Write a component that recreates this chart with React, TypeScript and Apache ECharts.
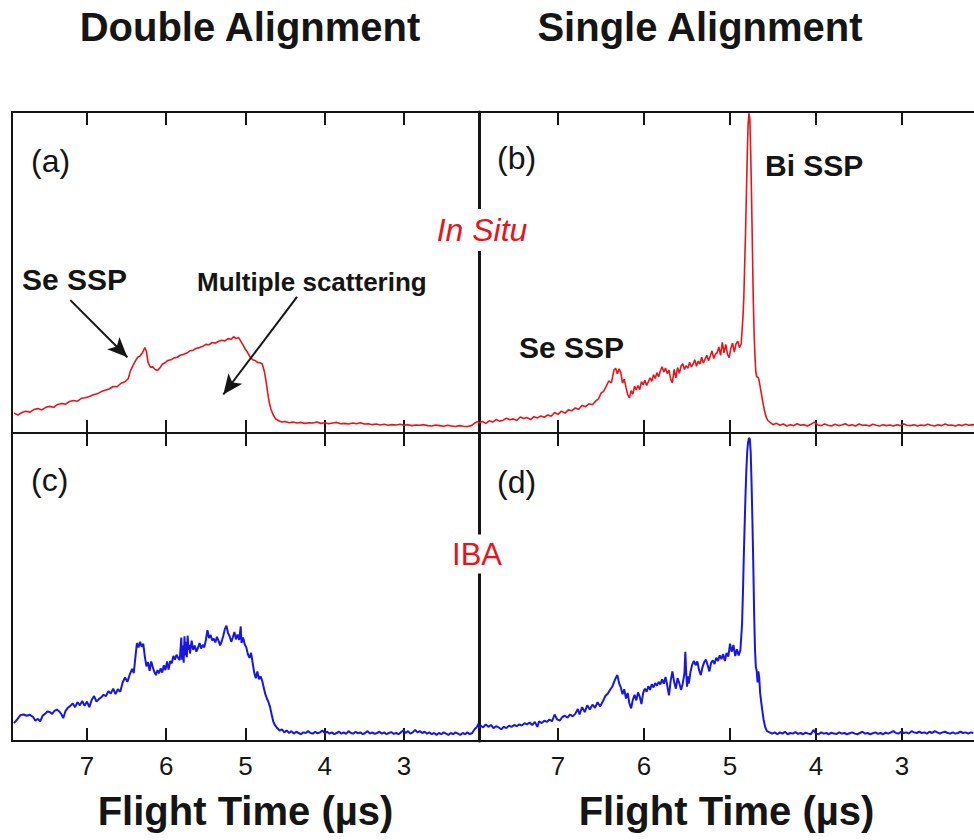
import React, { useEffect, useRef } from "react";
import * as echarts from "echarts";

// Flight time (µs) vs. counts (normalised, 100 = panel height)
const panelA_InSituDouble: [number, number][] = [
  [7.92, 6.2], [7.87, 5.6], [7.82, 6.4], [7.77, 6.8], [7.72, 6.5], [7.67, 7.3], [7.62, 7.6], [7.57, 7.2],
  [7.52, 8.0], [7.47, 8.3], [7.42, 8.0], [7.37, 8.9], [7.32, 9.2], [7.27, 9.0], [7.22, 9.8], [7.17, 10.1],
  [7.12, 9.9], [7.07, 10.8], [7.02, 11.0], [6.97, 11.4], [6.92, 11.9], [6.87, 12.2], [6.82, 12.9], [6.77, 13.3],
  [6.72, 13.7], [6.67, 14.5], [6.62, 14.4], [6.57, 15.5], [6.52, 16.0], [6.48, 16.9], [6.45, 19.5], [6.42, 21.0],
  [6.39, 22.4], [6.36, 23.6], [6.33, 24.0], [6.30, 25.0], [6.27, 26.6], [6.25, 25.4], [6.23, 22.0], [6.20, 20.5],
  [6.17, 20.6], [6.14, 19.8], [6.11, 19.5], [6.08, 20.3], [6.05, 21.4], [6.02, 21.8], [5.98, 22.6], [5.94, 22.8],
  [5.90, 23.4], [5.86, 23.6], [5.82, 24.3], [5.78, 24.5], [5.74, 24.9], [5.70, 25.6], [5.66, 25.8], [5.62, 26.4],
  [5.58, 26.6], [5.54, 27.0], [5.50, 27.6], [5.46, 27.5], [5.42, 28.2], [5.38, 28.0], [5.34, 28.6], [5.30, 28.9],
  [5.26, 28.7], [5.22, 29.4], [5.18, 29.2], [5.15, 30.0], [5.12, 29.4], [5.09, 29.8], [5.06, 28.6], [5.03, 27.4],
  [5.00, 26.0], [4.97, 24.9], [4.94, 23.6], [4.91, 22.8], [4.88, 22.6], [4.85, 22.0], [4.82, 21.9], [4.79, 21.6],
  [4.76, 19.0], [4.74, 16.0], [4.72, 12.5], [4.70, 9.5], [4.68, 7.5], [4.65, 5.6], [4.62, 4.4], [4.58, 3.8],
  [4.54, 3.4], [4.50, 3.6], [4.45, 3.2], [4.40, 3.4], [4.35, 3.1], [4.30, 3.3], [4.25, 3.0], [4.20, 3.2],
  [4.15, 3.1], [4.10, 3.4], [4.05, 3.0], [4.00, 3.2], [3.95, 2.9], [3.90, 3.1], [3.85, 3.3], [3.80, 2.9],
  [3.75, 3.0], [3.70, 2.8], [3.65, 3.1], [3.60, 2.9], [3.55, 3.2], [3.50, 2.8], [3.45, 2.9], [3.40, 2.6],
  [3.35, 2.8], [3.30, 2.5], [3.25, 2.7], [3.20, 2.4], [3.15, 2.6], [3.10, 2.5], [3.05, 2.7], [3.00, 2.4],
  [2.95, 2.6], [2.90, 2.3], [2.85, 2.5], [2.80, 2.4], [2.75, 2.6], [2.70, 2.3], [2.65, 2.2], [2.60, 2.5],
  [2.55, 2.3], [2.50, 2.1], [2.45, 2.4], [2.40, 2.2], [2.35, 2.0], [2.30, 2.3], [2.25, 2.1], [2.20, 2.0],
  [2.15, 2.3], [2.10, 3.2], [2.07, 3.6],
];

const panelB_InSituSingle: [number, number][] = [
  [7.93, 3.1], [7.88, 3.6], [7.84, 3.0], [7.80, 3.8], [7.76, 3.4], [7.72, 4.2], [7.68, 3.7], [7.64, 4.0],
  [7.60, 4.6], [7.56, 4.1], [7.52, 4.4], [7.48, 3.9], [7.44, 5.0], [7.40, 4.5], [7.36, 4.8], [7.32, 4.2],
  [7.28, 5.1], [7.24, 4.7], [7.20, 5.3], [7.16, 4.9], [7.12, 5.6], [7.08, 5.2], [7.04, 6.4], [7.00, 5.8],
  [6.96, 6.8], [6.92, 6.2], [6.88, 7.2], [6.84, 6.9], [6.80, 7.8], [6.76, 7.4], [6.72, 8.6], [6.68, 8.2],
  [6.64, 9.1], [6.60, 8.8], [6.56, 10.0], [6.53, 10.6], [6.50, 12.4], [6.47, 13.0], [6.44, 14.5], [6.41, 16.2],
  [6.38, 15.6], [6.35, 19.6], [6.33, 20.2], [6.31, 18.4], [6.29, 20.0], [6.27, 18.8], [6.25, 15.5], [6.23, 16.8],
  [6.21, 14.2], [6.19, 12.0], [6.17, 10.9], [6.15, 13.2], [6.13, 12.1], [6.11, 14.6], [6.09, 13.4], [6.07, 14.8],
  [6.05, 13.5], [6.03, 16.0], [6.01, 15.0], [5.99, 16.4], [5.97, 14.8], [5.95, 15.9], [5.93, 17.2], [5.91, 16.1],
  [5.89, 18.2], [5.87, 17.0], [5.85, 18.8], [5.83, 17.5], [5.81, 19.4], [5.79, 20.6], [5.77, 19.0], [5.75, 20.2],
  [5.73, 18.5], [5.71, 19.6], [5.69, 16.8], [5.67, 15.6], [5.65, 19.8], [5.63, 17.2], [5.61, 20.4], [5.59, 18.6],
  [5.57, 20.8], [5.55, 21.6], [5.53, 19.8], [5.51, 21.0], [5.49, 20.2], [5.47, 22.0], [5.45, 20.6], [5.43, 21.4],
  [5.41, 22.8], [5.39, 20.8], [5.37, 22.4], [5.35, 21.5], [5.33, 23.6], [5.31, 21.8], [5.29, 23.0], [5.27, 24.2],
  [5.25, 22.5], [5.23, 24.0], [5.21, 25.6], [5.19, 23.2], [5.17, 24.6], [5.15, 25.0], [5.13, 26.8], [5.11, 24.2],
  [5.09, 28.2], [5.07, 25.0], [5.05, 27.6], [5.03, 24.6], [5.01, 23.5], [4.99, 26.4], [4.97, 28.0], [4.95, 25.2],
  [4.93, 27.8], [4.91, 28.6], [4.89, 26.6], [4.87, 27.8], [4.85, 36.0], [4.84, 42.0], [4.83, 52.0], [4.82, 62.0],
  [4.81, 74.0], [4.80, 86.0], [4.79, 96.0], [4.78, 99.6], [4.77, 98.0], [4.76, 88.0], [4.75, 74.0], [4.74, 58.0],
  [4.73, 42.0], [4.72, 31.0], [4.71, 24.0], [4.70, 19.0], [4.69, 17.6], [4.67, 17.2], [4.66, 16.0], [4.64, 13.0],
  [4.62, 9.8], [4.60, 7.0], [4.58, 5.0], [4.56, 3.9], [4.53, 3.2], [4.50, 2.6], [4.46, 3.0], [4.42, 2.4],
  [4.38, 2.8], [4.34, 2.2], [4.30, 2.6], [4.26, 2.3], [4.22, 2.9], [4.18, 2.4], [4.14, 2.6], [4.10, 2.2],
  [4.06, 2.7], [4.02, 3.4], [3.98, 2.5], [3.94, 2.3], [3.90, 2.8], [3.86, 2.4], [3.82, 2.2], [3.78, 2.7],
  [3.74, 2.3], [3.70, 2.5], [3.66, 2.9], [3.62, 2.3], [3.58, 2.6], [3.54, 2.2], [3.50, 2.8], [3.46, 2.4],
  [3.42, 2.5], [3.38, 2.2], [3.34, 2.7], [3.30, 2.4], [3.26, 2.2], [3.22, 2.6], [3.18, 2.3], [3.14, 2.5],
  [3.10, 2.2], [3.06, 2.6], [3.02, 2.3], [2.98, 2.8], [2.94, 2.4], [2.90, 2.3], [2.86, 2.6], [2.82, 2.2],
  [2.78, 2.5], [2.74, 2.3], [2.70, 2.7], [2.66, 2.4], [2.62, 2.2], [2.58, 2.6], [2.54, 2.3], [2.50, 2.8],
  [2.46, 2.4], [2.42, 2.5], [2.38, 2.2], [2.34, 2.6], [2.30, 2.3], [2.26, 2.7], [2.22, 2.4], [2.18, 2.6],
  [2.16, 2.5],
];

const panelC_IBADouble: [number, number][] = [
  [7.92, 5.8], [7.88, 7.0], [7.84, 8.4], [7.80, 8.6], [7.76, 8.2], [7.72, 8.5], [7.68, 7.8], [7.65, 6.6],
  [7.62, 7.2], [7.59, 6.4], [7.56, 8.2], [7.53, 8.8], [7.50, 9.6], [7.47, 9.4], [7.44, 8.8], [7.41, 9.8],
  [7.38, 10.2], [7.35, 9.6], [7.32, 8.6], [7.30, 7.4], [7.27, 9.8], [7.24, 10.8], [7.21, 11.4], [7.18, 12.2],
  [7.15, 11.0], [7.12, 12.6], [7.09, 11.6], [7.06, 13.0], [7.03, 11.4], [7.00, 12.8], [6.97, 11.0], [6.94, 13.4],
  [6.91, 14.6], [6.88, 12.8], [6.85, 13.6], [6.82, 14.2], [6.79, 15.0], [6.76, 14.6], [6.73, 16.2], [6.70, 15.4],
  [6.67, 17.0], [6.64, 15.2], [6.61, 16.8], [6.58, 16.0], [6.55, 19.0], [6.52, 20.6], [6.49, 19.2], [6.46, 21.6],
  [6.43, 23.4], [6.41, 22.0], [6.39, 27.0], [6.37, 31.8], [6.35, 30.4], [6.33, 32.2], [6.31, 30.6], [6.29, 31.6],
  [6.27, 27.4], [6.25, 24.2], [6.23, 25.6], [6.21, 22.8], [6.19, 25.8], [6.17, 24.0], [6.15, 22.4], [6.13, 21.4],
  [6.11, 23.0], [6.09, 22.0], [6.07, 23.6], [6.05, 22.2], [6.03, 24.6], [6.01, 23.0], [5.99, 25.8], [5.97, 23.2],
  [5.95, 26.0], [5.93, 25.2], [5.91, 27.6], [5.89, 26.4], [5.87, 28.0], [5.85, 27.0], [5.83, 26.2], [5.81, 33.6],
  [5.80, 26.4], [5.79, 31.0], [5.78, 25.4], [5.77, 34.0], [5.76, 27.8], [5.75, 32.2], [5.74, 27.2], [5.73, 34.2],
  [5.72, 29.6], [5.71, 31.2], [5.70, 28.4], [5.68, 32.6], [5.66, 29.6], [5.64, 31.0], [5.62, 29.0], [5.60, 30.2],
  [5.58, 31.8], [5.56, 30.0], [5.54, 31.2], [5.52, 30.4], [5.50, 32.8], [5.48, 36.0], [5.46, 33.4], [5.44, 34.4],
  [5.42, 32.6], [5.40, 33.2], [5.38, 32.0], [5.36, 33.8], [5.34, 32.6], [5.32, 31.0], [5.30, 32.4], [5.28, 34.2],
  [5.26, 36.4], [5.24, 37.4], [5.22, 35.0], [5.20, 34.0], [5.18, 32.2], [5.16, 33.6], [5.14, 35.4], [5.12, 33.0],
  [5.10, 34.6], [5.08, 32.8], [5.06, 37.2], [5.05, 31.8], [5.03, 33.6], [5.01, 31.4], [4.99, 30.4], [4.97, 28.2],
  [4.95, 27.0], [4.93, 28.6], [4.91, 25.4], [4.89, 22.2], [4.87, 20.4], [4.85, 22.6], [4.83, 20.0], [4.81, 21.0],
  [4.79, 19.6], [4.77, 17.4], [4.75, 15.2], [4.73, 13.8], [4.71, 12.6], [4.69, 11.0], [4.67, 8.6], [4.65, 6.4],
  [4.63, 5.2], [4.60, 4.2], [4.57, 3.4], [4.54, 3.8], [4.51, 2.8], [4.48, 3.4], [4.45, 2.6], [4.42, 3.2],
  [4.39, 2.4], [4.36, 3.0], [4.33, 2.6], [4.30, 2.2], [4.27, 2.8], [4.24, 2.6], [4.21, 3.2], [4.18, 2.6],
  [4.15, 2.4], [4.12, 3.0], [4.09, 2.5], [4.06, 2.8], [4.03, 3.4], [4.00, 2.6], [3.97, 3.0], [3.94, 2.4],
  [3.91, 2.8], [3.88, 2.2], [3.85, 2.6], [3.82, 3.0], [3.79, 2.4], [3.76, 2.8], [3.73, 2.3], [3.70, 3.2],
  [3.67, 2.6], [3.64, 2.4], [3.61, 3.0], [3.58, 2.5], [3.55, 2.8], [3.52, 2.2], [3.49, 2.6], [3.46, 3.2],
  [3.43, 2.4], [3.40, 2.8], [3.37, 2.3], [3.34, 2.6], [3.31, 3.0], [3.28, 2.4], [3.25, 2.8], [3.22, 2.2],
  [3.19, 2.6], [3.16, 2.9], [3.13, 2.3], [3.10, 2.6], [3.07, 2.2], [3.04, 2.8], [3.01, 3.4], [2.98, 2.6],
  [2.95, 3.2], [2.92, 2.4], [2.89, 2.8], [2.86, 3.6], [2.83, 2.8], [2.80, 3.2], [2.77, 2.6], [2.74, 3.0],
  [2.71, 2.4], [2.68, 2.8], [2.65, 2.2], [2.62, 2.6], [2.59, 2.0], [2.56, 2.6], [2.53, 2.2], [2.50, 2.8],
  [2.47, 2.4], [2.44, 2.0], [2.41, 2.6], [2.38, 2.2], [2.35, 2.8], [2.32, 2.4], [2.29, 2.0], [2.26, 2.6],
  [2.23, 2.2], [2.20, 2.8], [2.17, 2.2], [2.14, 2.6], [2.11, 3.8], [2.08, 4.6], [2.06, 5.6],
];

const panelD_IBASingle: [number, number][] = [
  [7.93, 4.2], [7.90, 5.0], [7.87, 4.4], [7.84, 5.4], [7.81, 4.6], [7.78, 5.2], [7.75, 4.2], [7.72, 4.8],
  [7.69, 4.4], [7.66, 3.8], [7.63, 4.6], [7.60, 4.2], [7.57, 5.0], [7.54, 4.6], [7.51, 5.2], [7.48, 4.8],
  [7.45, 5.4], [7.42, 5.0], [7.39, 5.8], [7.36, 5.4], [7.33, 6.0], [7.30, 5.2], [7.27, 6.2], [7.24, 4.6],
  [7.22, 6.4], [7.19, 5.8], [7.16, 6.6], [7.13, 6.2], [7.10, 7.0], [7.07, 6.4], [7.04, 8.6], [7.01, 7.0],
  [6.98, 6.6], [6.95, 7.8], [6.92, 8.2], [6.89, 7.6], [6.86, 8.6], [6.83, 8.0], [6.80, 8.8], [6.77, 10.4],
  [6.75, 8.6], [6.72, 11.0], [6.69, 9.4], [6.66, 11.6], [6.63, 10.2], [6.60, 11.8], [6.57, 10.8], [6.54, 12.6],
  [6.51, 11.2], [6.48, 12.8], [6.45, 14.6], [6.42, 15.4], [6.39, 16.8], [6.37, 17.6], [6.35, 19.0], [6.33, 20.4],
  [6.31, 21.4], [6.29, 18.8], [6.27, 17.4], [6.25, 15.2], [6.23, 16.8], [6.21, 13.8], [6.19, 15.6], [6.17, 12.2],
  [6.15, 10.6], [6.13, 13.4], [6.11, 15.0], [6.09, 13.2], [6.07, 15.8], [6.05, 14.4], [6.03, 12.0], [6.01, 15.6],
  [5.99, 17.0], [5.97, 16.0], [5.95, 17.8], [5.93, 16.6], [5.91, 18.4], [5.89, 17.4], [5.87, 18.8], [5.85, 18.0],
  [5.83, 19.2], [5.81, 18.4], [5.79, 20.0], [5.77, 18.6], [5.75, 20.8], [5.73, 18.0], [5.71, 14.8], [5.69, 19.6],
  [5.67, 22.6], [5.65, 19.2], [5.63, 17.0], [5.61, 20.4], [5.59, 18.8], [5.57, 16.6], [5.55, 18.6], [5.53, 22.0],
  [5.52, 29.0], [5.51, 22.4], [5.50, 17.6], [5.49, 21.0], [5.48, 18.6], [5.46, 22.4], [5.44, 24.8], [5.42, 26.0],
  [5.40, 24.6], [5.38, 25.8], [5.36, 23.0], [5.34, 21.4], [5.32, 24.0], [5.30, 25.6], [5.28, 26.4], [5.26, 24.6],
  [5.24, 22.6], [5.22, 25.4], [5.20, 26.2], [5.18, 25.0], [5.16, 27.0], [5.14, 26.0], [5.12, 27.8], [5.10, 26.6],
  [5.08, 28.2], [5.06, 26.0], [5.04, 28.6], [5.02, 27.4], [5.00, 31.6], [4.98, 29.0], [4.96, 31.2], [4.94, 27.6],
  [4.92, 29.8], [4.90, 27.8], [4.88, 29.4], [4.86, 38.0], [4.85, 48.0], [4.84, 60.0], [4.83, 70.0], [4.82, 80.0],
  [4.81, 88.0], [4.80, 94.0], [4.79, 97.0], [4.78, 98.4], [4.77, 98.0], [4.76, 94.0], [4.75, 84.0], [4.74, 72.0],
  [4.73, 58.0], [4.72, 42.0], [4.71, 30.0], [4.70, 24.0], [4.69, 22.8], [4.68, 19.0], [4.67, 22.6], [4.66, 20.4],
  [4.65, 15.6], [4.63, 11.0], [4.61, 7.0], [4.59, 4.4], [4.57, 3.2], [4.54, 2.8], [4.51, 2.4], [4.48, 2.8],
  [4.45, 2.2], [4.42, 2.8], [4.39, 2.4], [4.36, 3.0], [4.33, 2.2], [4.30, 2.6], [4.27, 2.4], [4.24, 2.9],
  [4.21, 2.3], [4.18, 2.6], [4.15, 2.2], [4.12, 2.7], [4.09, 2.4], [4.06, 2.2], [4.03, 3.6], [4.00, 2.4],
  [3.97, 2.2], [3.94, 2.8], [3.91, 2.4], [3.88, 2.6], [3.85, 2.2], [3.82, 2.7], [3.79, 2.4], [3.76, 2.3],
  [3.73, 2.8], [3.70, 2.4], [3.67, 2.6], [3.64, 2.2], [3.61, 2.5], [3.58, 2.8], [3.55, 2.4], [3.52, 2.2],
  [3.49, 2.6], [3.46, 3.0], [3.43, 2.4], [3.40, 2.6], [3.37, 2.2], [3.34, 2.5], [3.31, 2.8], [3.28, 2.3],
  [3.25, 2.6], [3.22, 2.2], [3.19, 2.7], [3.16, 2.4], [3.13, 2.8], [3.10, 3.2], [3.07, 2.6], [3.04, 2.4],
  [3.01, 3.0], [2.98, 2.6], [2.95, 2.8], [2.92, 2.4], [2.89, 3.2], [2.86, 2.8], [2.83, 2.6], [2.80, 3.0],
  [2.77, 2.6], [2.74, 2.8], [2.71, 2.4], [2.68, 3.0], [2.65, 2.6], [2.62, 3.2], [2.59, 2.8], [2.56, 2.4],
  [2.53, 2.8], [2.50, 3.0], [2.47, 2.6], [2.44, 2.4], [2.41, 2.8], [2.38, 2.4], [2.35, 2.6], [2.32, 3.0],
  [2.29, 2.6], [2.26, 2.8], [2.23, 2.4], [2.20, 2.8], [2.17, 2.6],
];

const tickValues = [3, 4, 5, 6, 7];
const panelLabels = ["(a)", "(b)", "(c)", "(d)"];
const columnTitles = ["Double Alignment", "Single Alignment"];
const rowLabels = ["In Situ", "IBA"];
const xAxisTitle = "Flight Time (\u00b5s)";
// Arrow annotations in data coordinates [x, y] (panel a)
const arrowSe: [[number, number], [number, number]] = [[7.21, 41.4], [6.49, 23.6]];
const arrowMS: [[number, number], [number, number]] = [[4.35, 42.4], [5.28, 12.0]];

const RED = "#e8141b";
const BLUE = "#1717e0";
const INK = "#151515";
const FONT = "'Liberation Sans', Arial, Helvetica, sans-serif";

export default function App() {
  const ref = useRef<HTMLDivElement>(null);

  useEffect(() => {
    document.body.style.margin = "0";
    if (!ref.current) return;
    const chart = echarts.init(ref.current, null, { renderer: "svg" });

    const grids = [
      { left: 12, top: 112, width: 467, height: 321 },
      { left: 479, top: 112, right: 0, height: 321 },
      { left: 12, top: 433, width: 467, height: 308 },
      { left: 479, top: 433, right: 0, height: 308 },
    ];
    const ranges = [
      [2.054, 7.946],
      [2.163, 7.919],
      [2.054, 7.946],
      [2.163, 7.919],
    ];

    const xAxis: any[] = [];
    grids.forEach((_, i) => {
      const bottomRow = i >= 2;
      const base = {
        type: "value",
        gridIndex: i,
        min: ranges[i][0],
        max: ranges[i][1],
        inverse: true,
        splitLine: { show: false },
        axisLine: { show: true, onZero: false, lineStyle: { color: INK, width: 2 } },
        axisTick: {
          show: true,
          inside: true,
          length: 13,
          customValues: tickValues,
          lineStyle: { color: INK, width: 2 },
        },
      };
      xAxis.push({
        ...base,
        position: "bottom",
        axisLabel: {
          show: bottomRow,
          customValues: tickValues,
          fontSize: 26,
          color: INK,
          fontFamily: FONT,
          margin: 12,
        },
        name: bottomRow ? xAxisTitle : "",
        nameLocation: "middle",
        nameGap: 70,
        nameTextStyle: {
          fontSize: 40,
          fontWeight: "bold",
          color: INK,
          fontFamily: FONT,
          verticalAlign: "middle",
        },
      });
      xAxis.push({
        ...base,
        position: "top",
        axisLabel: { show: false },
      });
    });

    const yAxis = grids.map((_, i) => ({
      type: "value",
      gridIndex: i,
      min: 0,
      max: 100,
      axisLabel: { show: false },
      axisTick: { show: false },
      splitLine: { show: false },
      axisLine: {
        show: true,
        lineStyle: { color: INK, width: i % 2 === 1 ? 3 : 2 },
      },
    }));

    const mkSeries = (i: number, data: [number, number][], color: string, width: number) => ({
      type: "line",
      xAxisIndex: i * 2,
      yAxisIndex: i,
      data,
      showSymbol: false,
      symbol: "none",
      clip: true,
      lineStyle: { color, width },
      silent: true,
    });

    const seriesA: any = mkSeries(0, panelA_InSituDouble, RED, 1.6);
    seriesA.markLine = {
      silent: true,
      symbol: ["none", "arrow"],
      symbolSize: [13, 20],
      label: { show: false },
      lineStyle: { color: INK, width: 2, type: "solid" },
      itemStyle: { color: INK },
      data: [
        [{ coord: arrowSe[0] }, { coord: arrowSe[1] }],
        [{ coord: arrowMS[0] }, { coord: arrowMS[1] }],
      ],
    };

    const txt = (x: number, y: number, text: string, size: number, extra: any = {}) => ({
      type: "text",
      x,
      y,
      z: 100,
      zlevel: 0,
      silent: true,
      style: {
        text,
        fontSize: size,
        fontFamily: FONT,
        fill: INK,
        textAlign: "left",
        textVerticalAlign: "middle",
        ...extra,
      },
    });

    const graphic = [
      txt(250, 27, columnTitles[0], 40, { fontWeight: "bold", textAlign: "center" }),
      txt(700, 27, columnTitles[1], 40, { fontWeight: "bold", textAlign: "center" }),
      txt(31, 161, panelLabels[0], 32),
      txt(497, 158, panelLabels[1], 32),
      txt(31, 480, panelLabels[2], 32),
      txt(497, 482, panelLabels[3], 32),
      txt(22, 279, "Se SSP", 30, { fontWeight: "bold" }),
      txt(197, 282, "Multiple scattering", 26, { fontWeight: "bold" }),
      txt(519, 347, "Se SSP", 30, { fontWeight: "bold" }),
      txt(765, 165, "Bi SSP", 30, { fontWeight: "bold" }),
      txt(482, 230, rowLabels[0], 32, {
        fill: RED,
        fontStyle: "italic",
        textAlign: "center",
        backgroundColor: "#ffffff",
        padding: [5, 2],
      }),
      txt(477, 554, rowLabels[1], 31, {
        fill: RED,
        textAlign: "center",
        backgroundColor: "#ffffff",
        padding: [4, 2],
      }),
    ];

    chart.setOption({
      animation: false,
      backgroundColor: "#ffffff",
      grid: grids,
      xAxis,
      yAxis,
      series: [
        seriesA,
        mkSeries(1, panelB_InSituSingle, RED, 1.6),
        mkSeries(2, panelC_IBADouble, BLUE, 2),
        mkSeries(3, panelD_IBASingle, BLUE, 2),
      ],
      graphic,
    });

    return () => chart.dispose();
  }, []);

  return <div ref={ref} style={{ width: 974, height: 840 }} />;
}
